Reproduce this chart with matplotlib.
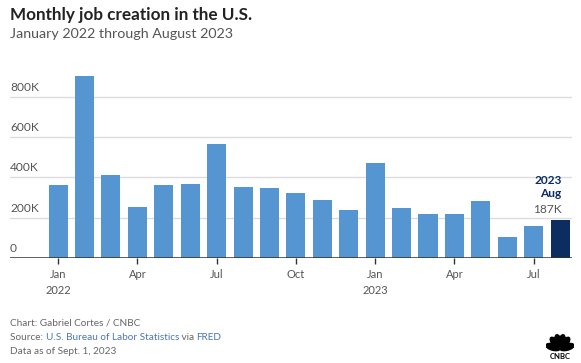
import matplotlib; matplotlib.use("Agg")
import matplotlib.pyplot as plt
from matplotlib.patches import Ellipse
from matplotlib.transforms import blended_transform_factory
import numpy as np

plt.rcParams['font.family'] = ['Lato', 'DejaVu Sans']

months = ["Jan", "Feb", "Mar", "Apr", "May", "Jun", "Jul", "Aug", "Sep", "Oct", "Nov", "Dec",
          "Jan", "Feb", "Mar", "Apr", "May", "Jun", "Jul", "Aug"]
jobs_k = [364, 904, 410, 253, 363, 368, 564, 350, 346, 320, 290, 239,
          472, 248, 217, 217, 281, 105, 157, 187]
tick_idx = [0, 3, 6, 9, 12, 15, 18]
tick_labels = ["Jan\n2022", "Apr", "Jul", "Oct", "Jan\n2023", "Apr", "Jul"]
y_ticks = [0, 200, 400, 600, 800]
y_labels = ["0", "200K", "400K", "600K", "800K"]

W, H = 581, 363
fig = plt.figure(figsize=(W/100, H/100), dpi=100)
ax = fig.add_axes([10/W, (H-258)/H, 562/W, 188/H])

colors = ["#5495d2"] * (len(jobs_k) - 1) + ["#0c2d62"]
ax.bar(range(len(jobs_k)), jobs_k, width=0.72, color=colors, zorder=2)
ax.set_xlim(-1.82, 19.45)
ax.set_ylim(0, 932)

for v in y_ticks[1:]:
    ax.axhline(v, color="#dcdcdc", lw=1, zorder=1)
ax.axhline(0, color="#333333", lw=1.1, zorder=3)
trans = blended_transform_factory(ax.transAxes, ax.transData)
for v, lab in zip(y_ticks, y_labels):
    ax.text(0, v + 20, lab, transform=trans, ha="left", va="bottom",
            fontsize=8.6, color="#555555")

ax.set_yticks([])
ax.set_xticks(tick_idx)
ax.set_xticklabels(tick_labels, fontsize=8, color="#555555", linespacing=1.5)
ax.tick_params(axis="x", length=4, width=1, color="#333333", pad=4)
for s in ax.spines.values():
    s.set_visible(False)

last = len(jobs_k) - 1
ax.annotate("2023\nAug", (last, jobs_k[-1]), xytext=(1, 15), textcoords="offset points",
            ha="right", va="bottom", fontsize=8.6, fontweight="bold", color="#0c2d62",
            linespacing=1.3)
ax.annotate(f"{jobs_k[-1]}K", (last, jobs_k[-1]), xytext=(1, 4), textcoords="offset points",
            ha="right", va="bottom", fontsize=8.6, color="#555555")

fig.text(10/W, 1 - 15/H, "Monthly job creation in the U.S.", fontsize=12.3,
         fontweight="bold", color="#222222", va="center")
fig.text(10/W, 1 - 34/H, "January 2022 through August 2023", fontsize=10.3,
         color="#555555", va="center")

fs = 7.2
fig.text(10/W, 1 - 323/H, "Chart: Gabriel Cortes / CNBC", fontsize=fs, color="#666666", va="center")
t1 = fig.text(10/W, 1 - 338/H, "Source: ", fontsize=fs, color="#666666", va="center")
fig.canvas.draw()
r = fig.canvas.get_renderer()
x = 10 + t1.get_window_extent(r).width
for part, col in [("U.S. Bureau of Labor Statistics", "#4a78b5"), (" via ", "#666666"), ("FRED", "#4a78b5")]:
    t = fig.text(x/W, 1 - 338/H, part, fontsize=fs, color=col, va="center")
    x += t.get_window_extent(r).width
fig.text(10/W, 1 - 352/H, "Data as of Sept. 1, 2023", fontsize=fs, color="#666666", va="center")

# CNBC peacock logo approximation
lax = fig.add_axes([546/W, 1 - 360/H, 28/W, 28/H])
lax.set_xlim(-1.2, 1.2); lax.set_ylim(-1.0, 1.4)
lax.axis("off")
for ang in [165, 129, 103, 77, 51, 15]:
    a = np.radians(ang)
    lax.add_patch(Ellipse((0.62*np.cos(a), 0.62*np.sin(a) - 0.05), 0.55, 1.25,
                          angle=ang - 90, color="black"))
lax.text(0, -0.72, "CNBC", ha="center", va="center", fontsize=5.5, fontweight="bold", color="black")

fig.savefig("out.png", dpi=100)
